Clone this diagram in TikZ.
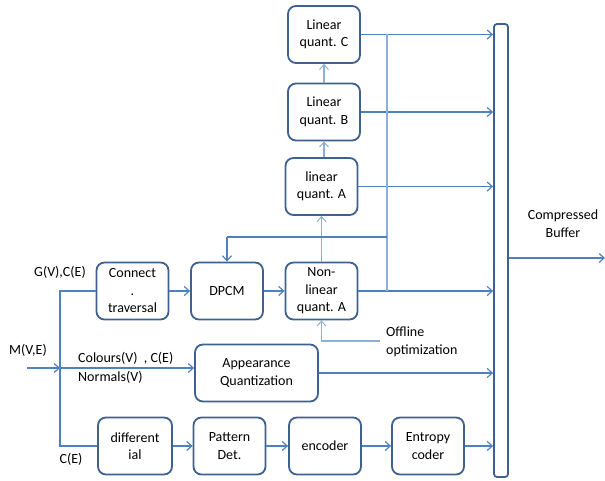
\documentclass[tikz,border=0pt]{standalone}
\usepackage{fontspec}
\setmainfont{Carlito}
\usetikzlibrary{arrows.meta}
\definecolor{boxc}{RGB}{62,97,143}
\definecolor{linec}{RGB}{79,129,189}
\definecolor{lightc}{RGB}{140,175,215}
\tikzset{
  blk/.style={draw=boxc, line width=1.8pt, rounded corners=8pt, minimum width=72pt, minimum height=57pt, align=center, inner sep=1pt, font=\fontsize{14}{17.5}\selectfont},
  arr/.style={draw=linec, line width=1.4pt, -{Straight Barb[length=5pt,width=9pt,line width=1.2pt]}},
  ln/.style={draw=linec, line width=1.4pt},
  larr/.style={draw=lightc, line width=1.2pt, -{Straight Barb[length=5pt,width=9pt,line width=1pt]}},
  lln/.style={draw=lightc, line width=1.2pt},
  lbl/.style={font=\fontsize{14}{17.5}\selectfont, align=left, inner sep=0pt}
}
\begin{document}
\begin{tikzpicture}[x=1pt,y=-1pt]
\useasboundingbox (0,0) rectangle (605,481);
% boxes
\node[blk] (C) at (324,34.5) {Linear\\quant. C};
\node[blk] (B) at (324,112) {Linear\\quant. B};
\node[blk] (A) at (321.5,186.5) {linear\\quant. A};
\node[blk] (NL) at (321.5,291) {Non-\\linear\\quant. A};
\node[blk] (DP) at (227,291) {DPCM};
\node[blk] (CT) at (132.5,291) {Connect\\.\\traversal};
\node[blk, minimum width=123pt] (AQ) at (256.5,373) {Appearance\\Quantization};
\node[blk, minimum width=74pt] (DI) at (135,446) {different\\ial};
\node[blk] (PD) at (229.5,446) {Pattern\\Det.};
\node[blk] (EN) at (325,446) {encoder};
\node[blk] (EC) at (428,446) {Entropy\\coder};
\node[draw=boxc, line width=1.8pt, rounded corners=3pt, minimum width=14pt, minimum height=453pt, inner sep=0pt] (BUF) at (501,250.5) {};
% labels
\node[lbl, align=center] (CB) at (563,223.5) {Compressed\\Buffer};
\node[lbl] (MVE) at (28,350) {M(V,E)};
\node[lbl] (GV) at (60,272) {G(V),C(E)};
\node[lbl, anchor=west] (COL) at (78,358) {Colours(V)\ \ , C(E)};
\node[lbl, anchor=west] (NOR) at (78,377) {Normals(V)};
\node[lbl] (CE) at (71,459) {C(E)};
\node[lbl, anchor=west] (OFF) at (386,342) {Offline\\optimization};
% coordinates
\coordinate (in) at (27,368);
\coordinate (sp) at (60,368);
\coordinate (fx) at (387,0);
\coordinate (fy) at (0,237);
\coordinate (bx) at (605,258);
% input tree
\draw[arr] (in) -- (sp);
\draw[ln] (CT.west) -- (CT.west -| sp) -- (DI.west -| sp) -- (DI.west);
\draw[arr] (sp) -- (sp -| AQ.west);
% main chain
\draw[arr] (CT) -- (DP);
\draw[arr] (DP) -- (NL);
\draw[arr] (DI) -- (PD);
\draw[arr] (PD) -- (EN);
\draw[arr] (EN) -- (EC);
% to buffer
\draw[arr] (C.east) -- (C.east -| BUF.west);
\draw[arr] (B.east) -- (B.east -| BUF.west);
\draw[arr] (A.east) -- (A.east -| BUF.west);
\draw[arr] (NL.east) -- (NL.east -| BUF.west);
\draw[arr] (AQ.east) -- (AQ.east -| BUF.west);
\draw[arr] (EC.east) -- (EC.east -| BUF.west);
% quant chain
\draw[larr] (NL.north) -- (A.south);
\draw[larr] (A.north -| B.south) -- (B.south);
\draw[larr] (B.north) -- (C.south);
% feedback
\draw[lln] (C.east -| fx) -- (NL.east -| fx);
\draw[ln] (fx |- fy) -- (DP.north |- fy);
\draw[arr] (DP.north |- fy) -- (DP.north);
% offline
\draw[larr] (380,341) -- (NL.south |- 0,341) -- (NL.south);
% output
\draw[arr] (BUF.east |- bx) -- (bx);
\end{tikzpicture}
\end{document}
